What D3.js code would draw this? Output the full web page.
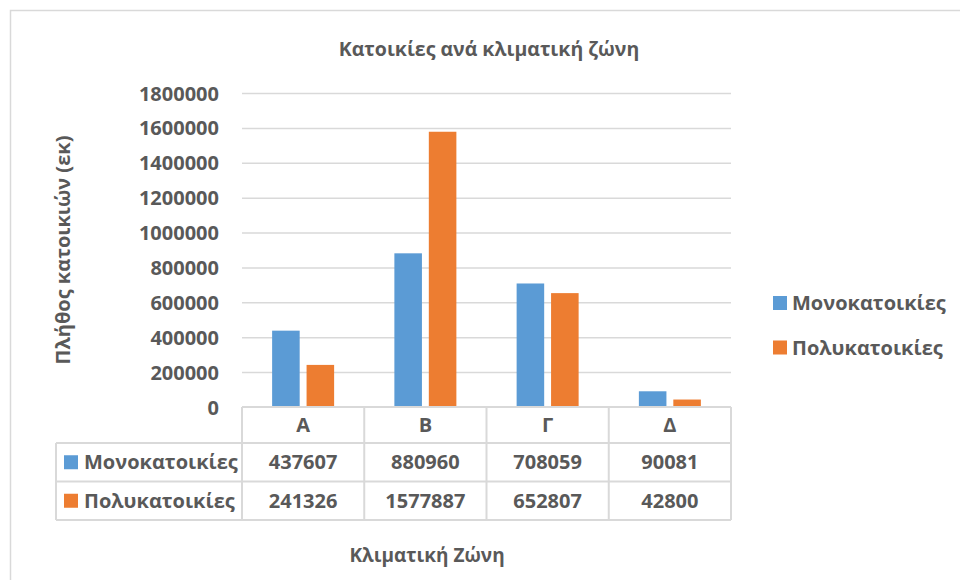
<!DOCTYPE html>
<html>
<head>
<meta charset="utf-8">
<script src="https://cdn.jsdelivr.net/npm/d3@7"></script>
<style>
  html, body { margin: 0; padding: 0; background: #fff; }
  svg text { font-family: "Open Sans", "DejaVu Sans", sans-serif; font-weight: bold; fill: #595959; }
</style>
</head>
<body>
<svg id="chart" width="960" height="580"></svg>
<script>
const categories = ["Α", "Β", "Γ", "Δ"];
const seriesNames = ["Μονοκατοικίες", "Πολυκατοικίες"];
const mono = [437607, 880960, 708059, 90081];
const poly = [241326, 1577887, 652807, 42800];
const yTicks = [0, 200000, 400000, 600000, 800000, 1000000, 1200000, 1400000, 1600000, 1800000];
const colors = ["#5B9BD5", "#ED7D31"];
const title = "Κατοικίες ανά κλιματική ζώνη";
const yTitle = "Πλήθος κατοικιών (εκ)";
const xTitle = "Κλιματική Ζώνη";

const seriesValues = [mono, poly];
const svg = d3.select("#chart");
const gridColor = "#d9d9d9";

// outer border
svg.append("rect").attr("x", 10.5).attr("y", 10.5).attr("width", 960).attr("height", 580)
  .attr("fill", "none").attr("stroke", gridColor).attr("stroke-width", 1.5);

const plotLeft = 242, plotRight = 731, plotTop = 93, plotBottom = 407;
const y = d3.scaleLinear().domain([0, 1800000]).range([plotBottom, plotTop]);
const x0 = d3.scaleBand().domain(categories).range([plotLeft, plotRight]).padding(0);
const bw = x0.bandwidth();
const x1 = d3.scaleBand().domain(seriesNames).range([bw / 2 - 31, bw / 2 + 31]).paddingInner(0.2);

// gridlines via axis
const yAxis = d3.axisLeft(y).tickValues(yTicks).tickSize(-(plotRight - plotLeft)).tickFormat(d3.format("d"));
const gy = svg.append("g").attr("transform", `translate(${plotLeft},0)`).call(yAxis);
gy.select(".domain").remove();
gy.selectAll(".tick line").attr("stroke", gridColor).attr("stroke-width", 1.5);
gy.selectAll(".tick text").attr("x", -23).attr("dy", "0.35em")
  .style("font-size", "20px").attr("fill", "#595959").attr("font-family", null);
gy.selectAll(".tick").filter(d => d === 0).select("line").remove();

// bars
const groups = svg.append("g").selectAll("g").data(categories).join("g")
  .attr("transform", d => `translate(${x0(d)},0)`);
groups.selectAll("rect").data((d, i) => seriesNames.map((s, j) => ({ s, v: seriesValues[j][i], j })))
  .join("rect")
  .attr("x", d => x1(d.s))
  .attr("width", x1.bandwidth())
  .attr("y", d => y(d.v))
  .attr("height", d => y(0) - y(d.v))
  .attr("fill", d => colors[d.j]);

// data table
const tableLeft = 56;
const rowY = [plotBottom, 443, 481.5, 520];
const tg = svg.append("g");
const line = (x1_, y1_, x2_, y2_) => tg.append("line").attr("x1", x1_).attr("y1", y1_).attr("x2", x2_).attr("y2", y2_)
  .attr("stroke", gridColor).attr("stroke-width", 2);
line(plotLeft, rowY[0], plotRight, rowY[0]);
line(tableLeft, rowY[1], plotRight, rowY[1]);
line(tableLeft, rowY[2], plotRight, rowY[2]);
line(tableLeft, rowY[3], plotRight, rowY[3]);
line(tableLeft, rowY[1], tableLeft, rowY[3]);
categories.forEach(c => line(x0(c), rowY[0], x0(c), rowY[3]));
line(plotRight, rowY[0], plotRight, rowY[3]);

// category header
tg.selectAll("text.cat").data(categories).join("text").attr("class", "cat")
  .attr("x", d => x0(d) + bw / 2).attr("y", (rowY[0] + rowY[1]) / 2).attr("dy", "0.35em")
  .attr("text-anchor", "middle").style("font-size", "20px").text(d => d);

// value rows
seriesNames.forEach((s, j) => {
  const cy = (rowY[j + 1] + rowY[j + 2]) / 2;
  tg.append("rect").attr("x", 64).attr("y", cy - 7).attr("width", 14).attr("height", 14).attr("fill", colors[j]);
  tg.append("text").attr("x", 84).attr("y", cy).attr("dy", "0.35em").style("font-size", "20px").text(s);
  tg.selectAll(null).data(categories).join("text")
    .attr("x", d => x0(d) + bw / 2).attr("y", cy).attr("dy", "0.35em")
    .attr("text-anchor", "middle").style("font-size", "20px")
    .text((d, i) => seriesValues[j][i]);
});

// legend
const lg = svg.append("g");
seriesNames.forEach((s, j) => {
  const cy = 303 + j * 44.5;
  lg.append("rect").attr("x", 773).attr("y", cy - 7).attr("width", 14).attr("height", 14).attr("fill", colors[j]);
  lg.append("text").attr("x", 792).attr("y", cy).attr("dy", "0.35em").style("font-size", "20px").text(s);
});

// titles
svg.append("text").attr("x", 489).attr("y", 56).attr("text-anchor", "middle").style("font-size", "19.5px").text(title);
svg.append("text").attr("transform", "translate(70,250) rotate(-90)").attr("text-anchor", "middle")
  .style("font-size", "20px").text(yTitle);
svg.append("text").attr("x", 427).attr("y", 562).attr("text-anchor", "middle").style("font-size", "19px").text(xTitle);
</script>
</body>
</html>
